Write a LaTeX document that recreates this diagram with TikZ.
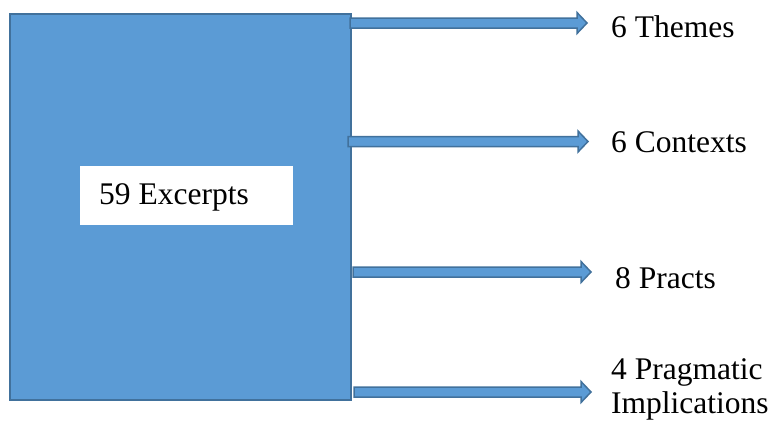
\documentclass[tikz,border=0pt]{standalone}
\usepackage{fontspec}
\setmainfont{Liberation Serif}
\usetikzlibrary{calc}
\definecolor{boxfill}{HTML}{5B9BD5}
\definecolor{boxline}{HTML}{41719C}
\begin{document}
\begin{tikzpicture}[x=1pt,y=-1pt,
  bigbox/.style={draw=boxline,fill=boxfill,line width=2pt,rectangle,inner sep=0pt,minimum width=341pt,minimum height=386pt},
  whitebox/.style={fill=white,rectangle,inner sep=0pt,minimum width=213pt,minimum height=59pt},
  lbl/.style={anchor=base west,inner sep=0pt,font=\fontsize{31.5}{34}\selectfont,align=left},
  blockarrow/.style={draw=boxline,fill=boxfill,line width=1.5pt,line join=miter}]
\useasboundingbox (0,0) rectangle (771,421);
\node[bigbox] (main) at (180.5,207) {};
\node[whitebox] (inner) at (186,195.5) {};
\node[lbl] (excerpts) at (99,204) {59 Excerpts};
\node[lbl] (themes) at (611,37.3) {6 Themes};
\node[lbl] (contexts) at (611,152) {6 Contexts};
\node[lbl] (practs) at (615,288) {8 Practs};
\node[lbl] (implic) at (611,413.5) {4 Pragmatic\\Implications};
% arrow start/end coordinates
\coordinate (s1) at (350,23);   \coordinate (e1) at (587,23);
\coordinate (s2) at (348,141.5);\coordinate (e2) at (588,141.5);
\coordinate (s3) at (353,272);  \coordinate (e3) at (591,272);
\coordinate (s4) at (354,392);  \coordinate (e4) at (591,392);
\foreach \i in {1,2,3,4}{
  \draw[blockarrow] ($(s\i)+(0,-5)$) -- ($(e\i)+(-10,-5)$) -- ($(e\i)+(-10,-10.5)$)
    -- (e\i) -- ($(e\i)+(-10,10.5)$) -- ($(e\i)+(-10,5)$) -- ($(s\i)+(0,5)$) -- cycle;
}
\end{tikzpicture}
\end{document}
